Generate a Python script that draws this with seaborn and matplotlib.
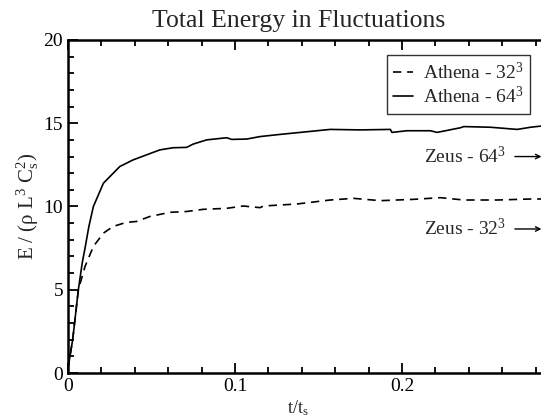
import numpy as np
import pandas as pd
import matplotlib
matplotlib.use("Agg")
import matplotlib.pyplot as plt
from matplotlib.ticker import MultipleLocator
import seaborn as sns

# Athena 64^3 (solid)
t_64 = [0.0, 0.0028, 0.0062, 0.0085, 0.0102, 0.0125, 0.0152, 0.0212, 0.031, 0.039,
        0.047, 0.055, 0.063, 0.071, 0.075, 0.083, 0.095, 0.098, 0.107, 0.115,
        0.127, 0.147, 0.157, 0.175, 0.193, 0.194, 0.203, 0.217, 0.221, 0.235,
        0.237, 0.253, 0.269, 0.277, 0.285]
E_64 = [0.3, 2.0, 5.0, 6.6, 7.5, 8.8, 10.0, 11.4, 12.4, 12.8,
        13.1, 13.4, 13.53, 13.55, 13.75, 14.0, 14.13, 14.03, 14.05, 14.2,
        14.33, 14.53, 14.63, 14.6, 14.63, 14.45, 14.55, 14.55, 14.45, 14.73,
        14.8, 14.76, 14.63, 14.76, 14.85]

# Athena 32^3 (dashed)
t_32 = [0.0, 0.0028, 0.0062, 0.0102, 0.0152, 0.0212, 0.027, 0.035, 0.041, 0.049,
        0.061, 0.071, 0.081, 0.095, 0.105, 0.115, 0.117, 0.137, 0.157, 0.171,
        0.187, 0.207, 0.223, 0.237, 0.257, 0.277, 0.285]
E_32 = [0.3, 2.0, 5.0, 6.4, 7.6, 8.4, 8.8, 9.05, 9.1, 9.4,
        9.65, 9.7, 9.83, 9.89, 10.03, 9.93, 10.03, 10.15, 10.39, 10.49,
        10.35, 10.43, 10.53, 10.39, 10.39, 10.45, 10.45]

series_labels = ["Athena - 32$^3$", "Athena - 64$^3$"]
zeus_labels = ["Zeus - 64$^3$", "Zeus - 32$^3$"]
zeus_levels = [13.0, 8.65]

sns.set_theme(style="ticks")
plt.rcParams["font.family"] = ["Liberation Serif", "DejaVu Serif"]
plt.rcParams["mathtext.fontset"] = "custom"
plt.rcParams["mathtext.rm"] = "Liberation Serif"
plt.rcParams["mathtext.it"] = "Liberation Serif:italic"
plt.rcParams["mathtext.default"] = "rm"

fig = plt.figure(figsize=(5.41, 4.17), dpi=100)
ax = fig.add_axes([68 / 541, 44 / 417, 501 / 541, 333 / 417])

sns.lineplot(x=t_32, y=E_32, ax=ax, color="black", lw=1.2, dashes=(5, 3.5),
             label=series_labels[0], sort=False)
sns.lineplot(x=t_64, y=E_64, ax=ax, color="black", lw=1.2,
             label=series_labels[1], sort=False)

ax.set_xlim(0, 0.3)
ax.set_ylim(0, 20)
ax.xaxis.set_major_locator(MultipleLocator(0.1))
ax.xaxis.set_minor_locator(MultipleLocator(0.02))
ax.yaxis.set_major_locator(MultipleLocator(5))
ax.yaxis.set_minor_locator(MultipleLocator(1))
ax.set_xticks([0, 0.1, 0.2])
ax.set_xticklabels(["0", "0.1", "0.2"])
ax.tick_params(which="both", direction="in", top=True, right=True, width=1.3,
               labelsize=14, colors="black")
ax.tick_params(which="major", length=7)
ax.tick_params(which="minor", length=4)
for s in ax.spines.values():
    s.set_linewidth(1.8)
    s.set_color("black")

ax.set_title("Total Energy in Fluctuations", fontsize=18.5, x=0.461, pad=9)
ax.set_xlabel("t/t$_\\mathregular{s}$", fontsize=13, labelpad=1)
ax.xaxis.set_label_coords(0.459, -0.075)
ax.set_ylabel("E / (\u03c1 L$^3$ C$_s^2$)", fontsize=15, labelpad=2)

leg = ax.legend(loc="upper right", bbox_to_anchor=(0.922, 0.955), borderaxespad=0,
                fontsize=14, frameon=True, fancybox=False, edgecolor="black",
                handlelength=1.0, handletextpad=0.5, borderpad=0.35, labelspacing=0.15)
leg.get_frame().set_linewidth(1.0)

for lab, lev in zip(zeus_labels, zeus_levels):
    ax.annotate(lab, xy=(0.2835, lev), xytext=(0.2623, lev), fontsize=14,
                ha="right", va="center",
                arrowprops=dict(arrowstyle="->", color="black", lw=1.0,
                                shrinkA=4, shrinkB=0, mutation_scale=8))

fig.savefig("out.png", dpi=100)
